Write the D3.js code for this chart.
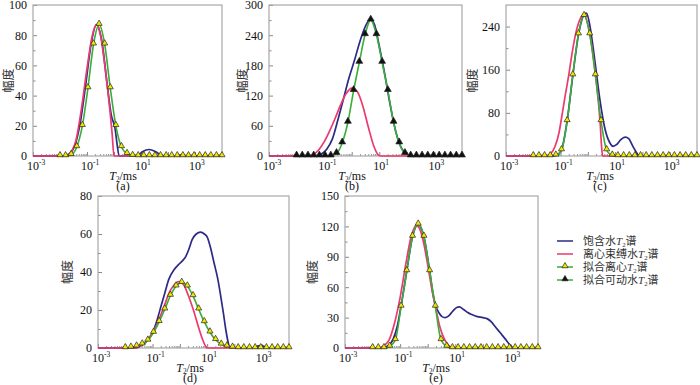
<!DOCTYPE html>
<html>
<head>
<meta charset="utf-8">
<script src="https://cdn.jsdelivr.net/npm/d3@7"></script>
<style>
  body { margin: 0; background: #fff; }
  svg { display: block; }
  .tick text { font-family: "Liberation Serif", "Times New Roman", serif; font-size: 12px; fill: #111; }
</style>
</head>
<body>
<svg id="chart" width="700" height="385"></svg>
<script>
// T2 (ms) of the fitted-curve markers
const markerT2 = [0.01, 0.0161, 0.0259, 0.0418, 0.0672, 0.1083, 0.1743, 0.2807, 0.452, 0.7279,
  1.172, 1.887, 3.039, 4.894, 7.88, 12.69, 20.43, 32.9, 52.98, 85.32,
  137.4, 221.2, 356.2, 573.7, 923.7, 1487, 2395, 3857, 6210, 10000];

// fitted spectra at markerT2
const fitA = [0, 0, 0.8, 6, 20, 45, 74, 87, 74, 45, 20, 6, 1.5, 0.2, 0, 0, 0, 0, 0, 0, 0, 0, 0, 0, 0, 0, 0, 0, 0, 0];
const fitB = [0, 0, 0, 0, 0, 0, 0, 5, 26, 67, 130, 186, 241, 270, 241, 186, 130, 67, 26, 5, 0, 0, 0, 0, 0, 0, 0, 0, 0, 0];
const fitC = [0, 0, 0, 0, 1.2, 11, 65, 150, 226, 260, 226, 150, 65, 11, 1.2, 0, 0, 0, 0, 0, 0, 0, 0, 0, 0, 0, 0, 0, 0, 0];
const fitD = [0, 0.3, 0.9, 2, 4, 8.1, 13.8, 20.4, 27.6, 32.5, 34.4, 32.5, 27.4, 20.4, 13.7, 8.3, 4.3, 1.9, 0.9, 0.3, 0, 0, 0, 0, 0, 0, 0, 0, 0, 0];
const fitE = [0, 0, 0, 1.5, 8, 41, 76, 110, 122, 110, 76, 41, 8, 1.5, 0, 0, 0, 0, 0, 0, 0, 0, 0, 0, 0, 0, 0, 0, 0, 0];

// [log10(T2/ms), amplitude] : saturated water T2 spectrum
const satA = [[-3, 0], [-1.85, 0], [-1.65, 1.5], [-1.45, 7], [-1.25, 22], [-1.05, 47], [-0.85, 74], [-0.65, 87], [-0.45, 76],
  [-0.25, 47], [-0.1, 27], [0.04, 18], [0.12, 7], [0.19, 0], [0.85, 0], [1.05, 2.8], [1.3, 4.3], [1.55, 2.8], [1.8, 0],
  [2.3, 0], [2.5, 0.8], [2.7, 0], [4, 0]];
const satB = [[-3, 0], [-1.3, 0], [-1.1, 4], [-0.9, 14], [-0.7, 34], [-0.5, 72], [-0.3, 113], [-0.1, 155], [0.1, 190],
  [0.3, 228], [0.5, 258], [0.67, 271], [0.82, 262], [1.0, 218], [1.2, 162], [1.4, 100], [1.6, 48], [1.8, 16], [2.0, 3],
  [2.12, 0], [4, 0]];
const satC = [[-3, 0], [-1.35, 0], [-1.17, 1], [-0.97, 11], [-0.76, 65], [-0.55, 150], [-0.34, 226], [-0.14, 262], [-0.05, 265],
  [0.08, 240], [0.26, 175], [0.44, 105], [0.62, 52], [0.8, 25], [0.92, 18], [1.05, 21], [1.2, 30], [1.37, 35], [1.5, 32],
  [1.65, 18], [1.8, 5], [1.87, 0], [4, 0]];
const satD = [[-3, 0], [-1.65, 0], [-1.45, 1], [-1.25, 3], [-1.02, 7.5], [-0.85, 14], [-0.71, 21], [-0.55, 29], [-0.41, 36],
  [-0.2, 41.5], [-0.04, 44], [0.1, 46], [0.21, 48], [0.33, 52], [0.45, 57], [0.6, 60], [0.76, 61], [0.9, 60], [1.0, 58.5],
  [1.12, 53], [1.25, 45], [1.38, 37], [1.49, 28], [1.6, 18], [1.68, 10], [1.77, 3], [1.83, 0], [2.6, 0], [2.95, 1.3],
  [3.3, 0], [4, 0]];
const satE = [[-3, 0], [-1.7, 0], [-1.45, 2], [-1.25, 9], [-1.1, 22], [-0.97, 41], [-0.76, 76], [-0.55, 110], [-0.35, 122],
  [-0.14, 110], [0.07, 76], [0.2, 52], [0.3, 41], [0.4, 35], [0.52, 31], [0.63, 30], [0.75, 31.5], [0.9, 36], [1.05, 40],
  [1.15, 40.5], [1.3, 38], [1.45, 35], [1.6, 33], [1.8, 31], [2.0, 30], [2.15, 29], [2.3, 26], [2.45, 21], [2.63, 15],
  [2.81, 9], [2.97, 3.5], [3.11, 0], [4, 0]];

// [log10(T2/ms), amplitude] : centrifuged (bound water) T2 spectrum
const cenA = [[-3, 0], [-1.8, 0], [-1.6, 2.5], [-1.4, 11], [-1.2, 32], [-1.0, 58], [-0.8, 80], [-0.65, 87], [-0.5, 80],
  [-0.3, 54], [-0.15, 30], [-0.07, 15], [0.0, 0], [4, 0]];
const cenB = [[-3, 0], [-1.6, 0], [-1.4, 3], [-1.2, 12], [-1.0, 28], [-0.8, 50], [-0.6, 75], [-0.4, 102], [-0.2, 124],
  [0.0, 135], [0.2, 128], [0.4, 100], [0.6, 58], [0.8, 20], [0.95, 3], [1.05, 0], [4, 0]];
const cenC = [[-3, 0], [-1.55, 0], [-1.35, 5], [-1.2, 18], [-1.05, 45], [-0.95, 75], [-0.82, 115], [-0.7, 150], [-0.58, 190],
  [-0.45, 226], [-0.3, 252], [-0.15, 262], [0.07, 226], [0.28, 150], [0.45, 62], [0.5, 20], [0.54, 0], [4, 0]];
const cenD = [[-3, 0], [-1.6, 0], [-1.4, 1.5], [-1.2, 4], [-1.02, 7.8], [-0.85, 12], [-0.71, 17], [-0.55, 23], [-0.41, 28.5],
  [-0.22, 33], [-0.04, 35], [0.15, 33], [0.3, 28], [0.39, 24.5], [0.52, 19], [0.64, 13], [0.82, 5], [0.94, 1], [1.0, 0], [4, 0]];
const cenE = [[-3, 0], [-1.8, 0], [-1.6, 2], [-1.4, 8], [-1.2, 25], [-1.0, 50], [-0.8, 82], [-0.6, 110], [-0.42, 121],
  [-0.3, 118], [-0.15, 104], [0.0, 82], [0.15, 58], [0.3, 38], [0.45, 20], [0.6, 9], [0.75, 3], [0.9, 0], [4, 0]];

const yTicksA = [0, 20, 40, 60, 80, 100];
const yTicksB = [0, 60, 120, 180, 240, 300];
const yTicksC = [0, 80, 160, 240];
const yTicksD = [0, 20, 40, 60, 80];
const yTicksE = [0, 30, 60, 90, 120, 150];
const xLabelExp = [-3, -1, 1, 3];
const captions = ['(a)', '(b)', '(c)', '(d)', '(e)'];
const legendItems = ['饱含水', '离心束缚水', '拟合离心', '拟合可动水'];

const blue = '#2c2a85', pink = '#ea3a6f', green = '#3aad3a', yellow = '#f4e600';

const panels = [
  { left: 33, top: 5, w: 189, h: 151, ymax: 100, yTicks: yTicksA, sat: satA, cen: cenA, fit: fitA, mark: yellow, labX: 123, yLabX: 9 },
  { left: 269, top: 5, w: 193, h: 151, ymax: 300, yTicks: yTicksB, sat: satB, cen: cenB, fit: fitB, mark: '#111', labX: 352, yLabX: 243 },
  { left: 506, top: 5, w: 191, h: 151, ymax: 280, yTicks: yTicksC, sat: satC, cen: cenC, fit: fitC, mark: yellow, labX: 600, yLabX: 473 },
  { left: 98, top: 196, w: 191, h: 152, ymax: 80, yTicks: yTicksD, sat: satD, cen: cenD, fit: fitD, mark: yellow, labX: 190, yLabX: 68 },
  { left: 345, top: 196, w: 193, h: 152, ymax: 150, yTicks: yTicksE, sat: satE, cen: cenE, fit: fitE, mark: yellow, labX: 436, yLabX: 313 }
];

const svg = d3.select('#chart');
const serif = '"Liberation Serif", "Times New Roman", serif';
const cjk = '"Noto Sans CJK SC", "Noto Sans", sans-serif';
const tri = d3.symbol().type(d3.symbolTriangle);

// T2 label: italic T, subscript 2
function t2(sel, fs, suffix) {
  sel.append('tspan').attr('font-family', serif).attr('font-style', 'italic').text('T');
  sel.append('tspan').attr('font-family', serif).attr('font-size', fs * 0.6).attr('dy', 2).text('2');
  sel.append('tspan').attr('dy', -2).attr('font-family', suffix.fam).text(suffix.text);
}

panels.forEach((p, pi) => {
  const g = svg.append('g').attr('transform', `translate(${p.left},${p.top})`);
  const x = d3.scaleLog().domain([1e-3, 1e4]).range([0, p.w]);
  const y = d3.scaleLinear().domain([0, p.ymax]).range([p.h, 0]);

  // minor y ticks halfway between labelled ones
  const step = p.yTicks[1] - p.yTicks[0];
  const yMinor = d3.range(step / 2, p.ymax, step);
  const ym = g.append('g').call(d3.axisLeft(y).tickValues(yMinor).tickSize(-2.5).tickFormat(() => ''));
  ym.select('.domain').remove();
  ym.selectAll('line').attr('stroke', '#888');

  const ya = g.append('g').call(d3.axisLeft(y).tickValues(p.yTicks).tickSizeInner(-4).tickSizeOuter(0).tickPadding(6));
  ya.select('.domain').remove();
  ya.selectAll('line').attr('stroke', '#888');

  // log x ticks, inward
  const decades = d3.range(-3, 5).map(e => Math.pow(10, e));
  const minor = [];
  d3.range(-3, 4).forEach(e => { for (let k = 2; k < 10; k++) minor.push(k * Math.pow(10, e)); });
  const xm = g.append('g').attr('transform', `translate(0,${p.h})`)
    .call(d3.axisBottom(x).tickValues(minor).tickSize(-2).tickFormat(() => ''));
  xm.select('.domain').remove();
  xm.selectAll('line').attr('stroke', '#999');
  const xa = g.append('g').attr('transform', `translate(0,${p.h})`)
    .call(d3.axisBottom(x).tickValues(decades).tickSize(-4).tickFormat(() => ''));
  xa.select('.domain').remove();
  xa.selectAll('line').attr('stroke', '#888');

  xLabelExp.forEach(e => {
    const t = g.append('text').attr('x', x(Math.pow(10, e)) - 6).attr('y', p.h + 13.5)
      .attr('font-family', serif).attr('font-size', 12).attr('fill', '#111');
    t.append('tspan').text('10');
    t.append('tspan').attr('font-size', 7.5).attr('dy', -5).text(e < 0 ? '-' + (-e) : e);
  });

  // frame
  g.append('rect').attr('width', p.w).attr('height', p.h)
    .attr('fill', 'none').attr('stroke', '#a8a8a8').attr('stroke-width', 1.2);

  const lineXY = d3.line().x(d => x(Math.pow(10, d[0]))).y(d => y(d[1])).curve(d3.curveMonotoneX);
  g.append('path').attr('d', lineXY(p.sat)).attr('fill', 'none').attr('stroke', blue).attr('stroke-width', 1.7);
  g.append('path').attr('d', lineXY(p.cen)).attr('fill', 'none').attr('stroke', pink).attr('stroke-width', 1.7);

  const lineFit = d3.line().x((d, i) => x(markerT2[i])).y(d => y(d)).curve(d3.curveMonotoneX);
  g.append('path').attr('d', lineFit(p.fit)).attr('fill', 'none').attr('stroke', green).attr('stroke-width', 1.6);

  g.selectAll('.mk').data(p.fit).enter().append('path')
    .attr('transform', (d, i) => `translate(${x(markerT2[i])},${y(d) - 1})`)
    .attr('d', tri.size(p.mark === yellow ? 16 : 20)())
    .attr('fill', p.mark).attr('stroke', '#222').attr('stroke-width', 0.7);

  // axis titles
  svg.append('text').attr('transform', `translate(${p.yLabX},${p.top + p.h / 2}) rotate(-90)`)
    .attr('text-anchor', 'middle').attr('dy', '0.35em')
    .attr('font-family', cjk).attr('font-size', 12).attr('fill', '#333').text('幅度');
  const xt = svg.append('text').attr('x', p.labX).attr('y', p.top + p.h + 24)
    .attr('text-anchor', 'middle').attr('font-size', 12).attr('fill', '#111');
  t2(xt, 12, { text: '/ms', fam: serif });
  svg.append('text').attr('x', p.labX).attr('y', p.top + p.h + 34)
    .attr('text-anchor', 'middle').attr('font-family', serif).attr('font-size', 12).attr('fill', '#111')
    .text(captions[pi]);
});

// legend
const lg = svg.append('g').attr('transform', 'translate(557,241)');
const legendStyle = [
  { color: blue, mark: null },
  { color: pink, mark: null },
  { color: green, mark: yellow },
  { color: green, mark: '#111' }
];
legendItems.forEach((name, i) => {
  const row = lg.append('g').attr('transform', `translate(0,${i * 13})`);
  row.append('line').attr('x1', 0).attr('x2', 16).attr('stroke', legendStyle[i].color).attr('stroke-width', 1.5);
  if (legendStyle[i].mark) {
    row.append('path').attr('transform', 'translate(8,-1)').attr('d', tri.size(16)())
      .attr('fill', legendStyle[i].mark).attr('stroke', '#222').attr('stroke-width', 0.7);
  }
  const t = row.append('text').attr('x', 26).attr('y', 4).attr('font-family', cjk).attr('font-size', 11).attr('fill', '#333');
  t.append('tspan').text(name);
  t2(t, 11.5, { text: '谱', fam: cjk });
});
</script>
</body>
</html>
